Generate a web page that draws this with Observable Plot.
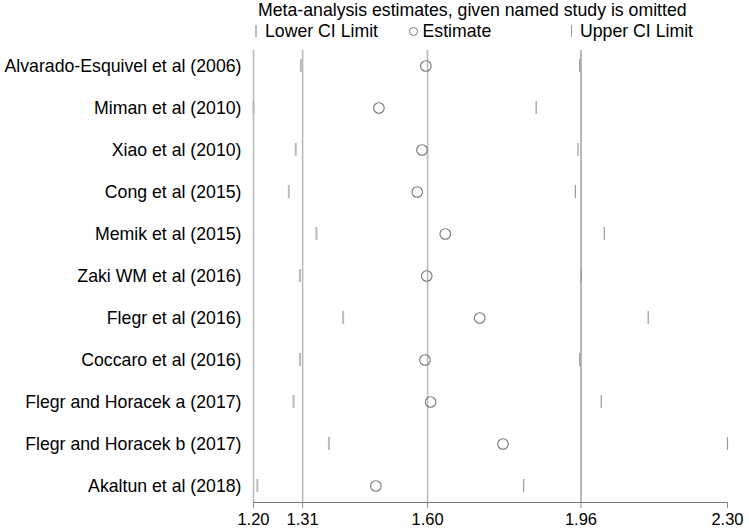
<!DOCTYPE html>
<html>
<head>
<meta charset="utf-8">
<script src="https://cdn.jsdelivr.net/npm/d3@7"></script>
<script src="https://cdn.jsdelivr.net/npm/@observablehq/plot@0.6"></script>
<style>
  body { margin: 0; background: white; }
  #wrap { position: relative; width: 749px; height: 529px; font-family: "Liberation Sans", Arial, sans-serif; color: #000; }
  #header { position: relative; width: 749px; height: 40px; }
  .t { position: absolute; font-size: 17.7px; line-height: 1.2; white-space: nowrap; }
  .mk { position: absolute; }
</style>
</head>
<body>
<div id="wrap">
  <div id="header">
    <div class="t" style="left:258px; top:0px;">Meta-analysis estimates, given named study is omitted</div>
    <div class="mk" style="left:255px; top:25px; width:2px; height:12px; background:#bbb;"></div>
    <div class="t" style="left:265px; top:21px;">Lower CI Limit</div>
    <div class="mk" style="left:409px; top:27px; width:7px; height:7px; border:1px solid #777; border-radius:50%;"></div>
    <div class="t" style="left:422.5px; top:21px;">Estimate</div>
    <div class="mk" style="left:571px; top:25px; width:1px; height:12px; background:#999;"></div>
    <div class="t" style="left:580px; top:21px;">Upper CI Limit</div>
  </div>
  <div id="chart"></div>
</div>
<script>
const studies = [
  "Alvarado-Esquivel et al (2006)",
  "Miman et al (2010)",
  "Xiao et al (2010)",
  "Cong et al (2015)",
  "Memik et al (2015)",
  "Zaki WM et al (2016)",
  "Flegr et al (2016)",
  "Coccaro et al (2016)",
  "Flegr and Horacek a (2017)",
  "Flegr and Horacek b (2017)",
  "Akaltun et al (2018)"
];
const lowerCI  = [1.310, 1.200, 1.298, 1.282, 1.346, 1.308, 1.408, 1.308, 1.293, 1.375, 1.209];
const estimate = [1.600, 1.491, 1.591, 1.580, 1.645, 1.602, 1.725, 1.598, 1.611, 1.779, 1.484];
const upperCI  = [1.957, 1.856, 1.953, 1.947, 2.014, 1.961, 2.116, 1.957, 2.007, 2.300, 1.827];
const overall = [1.314, 1.604, 1.960];   // lower, estimate, upper of pooled result
const xTicks = [1.20, 1.314, 1.604, 1.96, 2.30];

const data = studies.map((s, i) => ({study: s, lower: lowerCI[i], est: estimate[i], upper: upperCI[i]}));

const chart = Plot.plot({
  width: 749,
  height: 489,
  marginTop: 10,
  marginBottom: 27,
  marginLeft: 253,
  marginRight: 22,
  style: {fontFamily: '"Liberation Sans", Arial, sans-serif', fontSize: "17.7px", color: "black", background: "white"},
  x: {domain: [1.20, 2.30], label: null},
  y: {domain: studies, type: "band", paddingInner: 0.69, paddingOuter: 0.194, align: 0.5, label: null},
  marks: [
    Plot.ruleX([xTicks[0], overall[0], overall[1]], {stroke: "#bbb", strokeWidth: 1.6}),
    Plot.ruleX([overall[2]], {stroke: "#888", strokeWidth: 1.2}),
    Plot.frame({anchor: "bottom", stroke: "#777", strokeWidth: 1.2}),
    Plot.axisX({ticks: xTicks, tickFormat: d3.format(".2f"), tickSize: 6, tickPadding: 5, stroke: "#888", fill: "black", fontSize: 16.5, label: null}),
    Plot.axisY({tickSize: 0, tickPadding: 12, fill: "black", fontSize: 17.7, label: null}),
    Plot.tickX(data, {x: "lower", y: "study", stroke: "#bbb", strokeWidth: 2}),
    Plot.tickX(data, {x: "upper", y: "study", stroke: "#999", strokeWidth: 1.2}),
    Plot.dot(data, {x: "est", y: "study", r: 5.3, stroke: "#777", strokeWidth: 1.1, fill: "none"})
  ]
});
document.getElementById("chart").appendChild(chart);
</script>
</body>
</html>
